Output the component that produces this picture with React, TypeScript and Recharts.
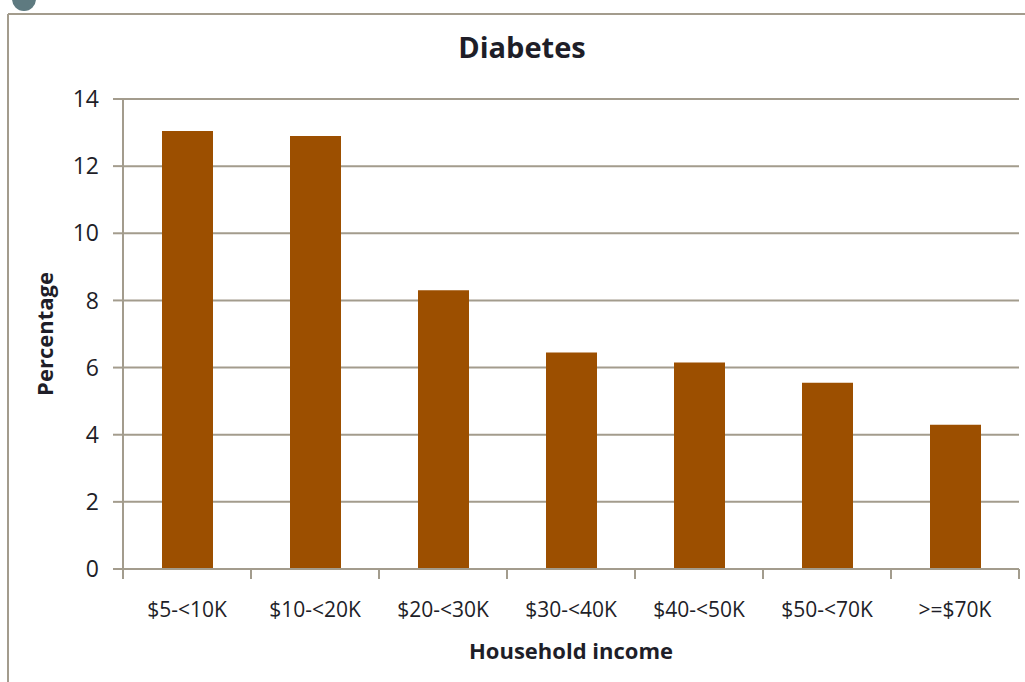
import { Bar, BarChart, CartesianGrid, XAxis, YAxis } from "recharts"

const incomeBands = ["$5-<10K", "$10-<20K", "$20-<30K", "$30-<40K", "$40-<50K", "$50-<70K", ">=$70K"]
const diabetesPct = [13.05, 12.9, 8.3, 6.45, 6.15, 5.55, 4.3]
const yTicks = [0, 2, 4, 6, 8, 10, 12, 14]
// category boundaries, where the tick marks sit
const bandEdges = [0, 1, 2, 3, 4, 5, 6, 7]

const FONT = "'Open Sans', sans-serif"
const LINE = "#a39c8d"
const INK = "#1e1e28"
const BAR = "#9c4f00"

export default function App() {
  const data = incomeBands.map((band, i) => ({ band, pct: diabetesPct[i], pos: i + 0.5 }))

  return (
    <div style={{ position: "absolute", left: 0, top: 0, width: 1025, height: 682, background: "#fff", overflow: "hidden" }}>
      <svg width={1025} height={682} style={{ position: "absolute", left: 0, top: 0 }}>
        <circle cx={24} cy={-1} r={12} fill="#5e7a80" />
        <line x1={8} y1={14} x2={1025} y2={14} stroke={LINE} strokeWidth={2} />
        <line x1={8} y1={14} x2={8} y2={682} stroke={LINE} strokeWidth={2} />
        <text x={522} y={58} textAnchor="middle" fontFamily={FONT} fontWeight={700} fontSize={29} fill={INK}>
          Diabetes
        </text>
      </svg>
      <div style={{ position: "absolute", left: 0, top: 0 }}>
        <BarChart width={1025} height={682} data={data} margin={{ top: 99, right: 6, bottom: 0, left: 0 }}>
          <CartesianGrid xAxisId="b" vertical={false} stroke={LINE} strokeWidth={2} />
          {/* boundary axis: only the axis line and the between-category tick marks */}
          <XAxis xAxisId="a" dataKey="pos" type="number" domain={[0, 7]} ticks={bandEdges}
            allowDataOverflow height={10} tick={() => <g />} tickSize={10}
            axisLine={{ stroke: LINE, strokeWidth: 2 }} tickLine={{ stroke: LINE, strokeWidth: 2 }} />
          <XAxis xAxisId="b" dataKey="band" height={103} interval={0} axisLine={false} tickLine={false}
            tickSize={0} tickMargin={23}
            tick={{ fill: INK, fontSize: 21, fontFamily: FONT }}
            label={{ value: "Household income", position: "insideBottom", offset: 23,
              fill: INK, fontSize: 22, fontWeight: 700, fontFamily: FONT }} />
          <YAxis width={123} domain={[0, 14]} ticks={yTicks} interval={0} tickSize={10} tickMargin={14}
            axisLine={{ stroke: LINE, strokeWidth: 2 }} tickLine={{ stroke: LINE, strokeWidth: 2 }}
            tick={{ fill: INK, fontSize: 23, fontFamily: FONT }}
            label={{ value: "Percentage", angle: -90, position: "insideLeft", offset: 45,
              fill: INK, fontSize: 22, fontWeight: 700, fontFamily: FONT, style: { textAnchor: "middle" } }} />
          <Bar xAxisId="b" dataKey="pct" fill={BAR} barSize={51} isAnimationActive={false} />
        </BarChart>
      </div>
    </div>
  )
}
